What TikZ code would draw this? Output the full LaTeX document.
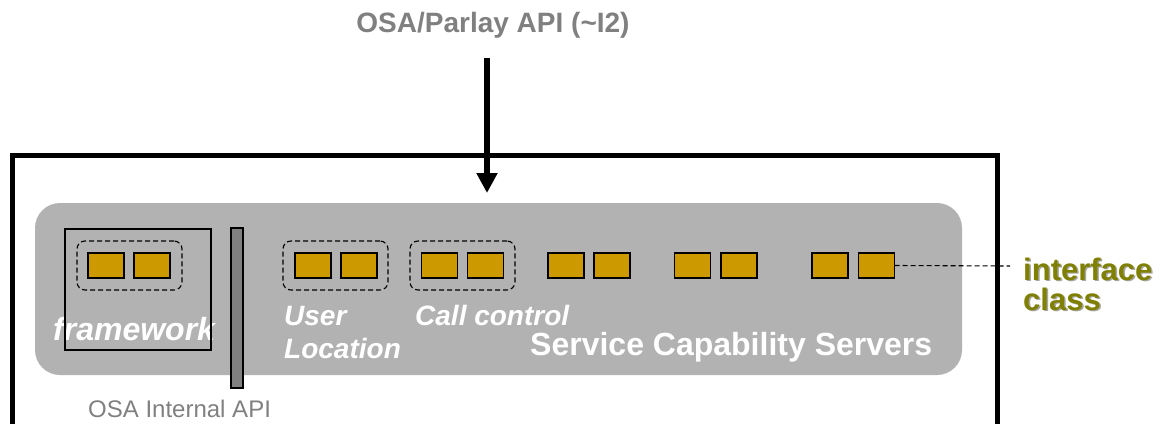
\documentclass[tikz,border=0pt]{standalone}
\usepackage{fontspec}
\setmainfont{Liberation Sans}
\usetikzlibrary{arrows.meta}
\definecolor{panelgray}{RGB}{178,178,178}
\definecolor{bargray}{RGB}{128,128,128}
\definecolor{textgray}{RGB}{128,128,128}
\definecolor{gold}{RGB}{204,153,0}
\definecolor{olivetext}{RGB}{128,128,0}
\tikzset{
  ifbox/.style={draw=black, fill=gold, line width=1.3pt, minimum width=36pt, minimum height=25pt, inner sep=0pt, outer sep=0pt},
  grp/.style={draw=black, dashed, dash pattern=on 5pt off 3pt, line width=1.1pt, rounded corners=8pt, minimum width=105pt, minimum height=49pt, inner sep=0pt},
  wlabel/.style={text=white, font=\fontsize{28}{33}\selectfont\bfseries\itshape, inner sep=0pt, anchor=base west, align=left}
}
\begin{document}
\begin{tikzpicture}[x=1pt,y=-1pt]
\useasboundingbox (0,0) rectangle (1164,423);
\clip (0,0) rectangle (1164,423);
% outer frame
\draw[line width=5pt] (12,440) -- (12,155) -- (997,155) -- (997,440);
% panel
\fill[panelgray, rounded corners=25pt] (35,203) rectangle (962,375);
% title and arrow
\node[text=textgray, font=\fontsize{28}{33}\selectfont\bfseries, anchor=base, inner sep=0pt] (title) at (493,32) {OSA/Parlay API (\char`~I2)};
\coordinate (arrstart) at (487,58);
\coordinate (arrend) at (487,193);
\draw[line width=6pt, -{Triangle[width=20pt,length=20pt]}] (arrstart) -- (arrend);
% groups
\node[grp] (gfw) at (129.5,265.5) {};
\node[grp] (gul) at (335.5,265.5) {};
\node[grp] (gcc) at (462.5,265.5) {};
% interface boxes
\node[ifbox] (f1) at (106,265.5) {};
\node[ifbox] (f2) at (152,265.5) {};
\node[ifbox] (u1) at (313,265.5) {};
\node[ifbox] (u2) at (359,265.5) {};
\node[ifbox] (c1) at (439.5,265.5) {};
\node[ifbox] (c2) at (485.5,265.5) {};
\node[ifbox] (d1) at (566,265.5) {};
\node[ifbox] (d2) at (612,265.5) {};
\node[ifbox] (e1) at (692.5,265.5) {};
\node[ifbox] (e2) at (739,265.5) {};
\node[ifbox] (s1) at (830,265.5) {};
\node[ifbox] (s2) at (876.5,265.5) {};
% labels
\node[wlabel, font=\fontsize{32}{33}\selectfont\bfseries\itshape] (fwlabel) at (53,340) {framework};
\node[wlabel] (ullabel) at (284,358) {User\\Location};
\node[wlabel] (cclabel) at (415,325) {Call control};
\node[text=white, font=\fontsize{32}{34}\selectfont\bfseries, inner sep=0pt, anchor=base west] (scs) at (530,355) {Service Capability Servers};
% framework box
\draw[line width=1.2pt] (65,229) rectangle (211,350);
\node[draw=black, fill=bargray, line width=1.2pt, inner sep=0pt, minimum width=12pt, minimum height=160pt] (bar) at (237,308) {};
\node[text=textgray, font=\fontsize{24}{26}\selectfont, inner sep=0pt, anchor=base west] (intapi) at (88,417) {OSA Internal API};
% interface class label
\node[text=black!35, font=\fontsize{31}{30}\selectfont\bfseries, inner sep=0pt, anchor=base west, align=left] at (1024.5,311.5) {interface\\class};
\node[text=olivetext, font=\fontsize{31}{30}\selectfont\bfseries, inner sep=0pt, anchor=base west, align=left] (iclabel) at (1023,310) {interface\\class};
\coordinate (icend) at (1010,266);
\draw[dashed, dash pattern=on 5pt off 3pt, line width=1.1pt] (s2.east) -- (icend);
\end{tikzpicture}
\end{document}
